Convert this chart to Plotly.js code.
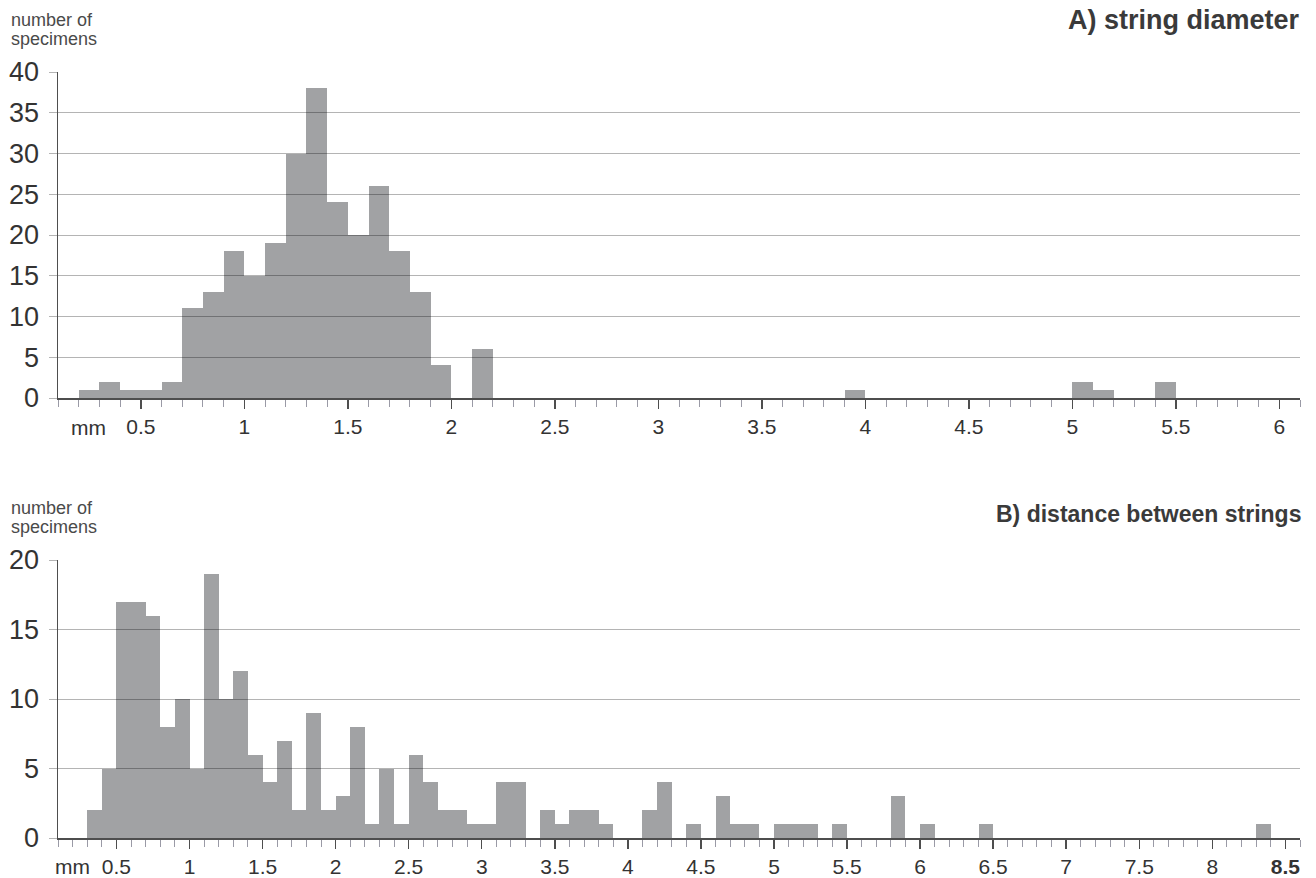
<!DOCTYPE html>
<html>
<head>
<meta charset="utf-8">
<script src="https://cdn.plot.ly/plotly-3.0.1.min.js"></script>
<style>
  html, body { margin: 0; padding: 0; background: #ffffff; }
  #chart { width: 1316px; height: 878px; }
</style>
</head>
<body>
<div id="chart"></div>
<script>
// ---- Data (bin lower edges in mm, bin width 0.1 mm) ----
const diameterEdges  = [0.2, 0.3, 0.4, 0.5, 0.6, 0.7, 0.8, 0.9, 1.0, 1.1, 1.2, 1.3, 1.4, 1.5, 1.6, 1.7, 1.8, 1.9, 2.1, 3.9, 5.0, 5.1, 5.4];
const diameterCounts = [1,   2,   1,   1,   2,   11,  13,  18,  15,  19,  30,  38,  24,  20,  26,  18,  13,  4,   6,   1,   2,   1,   2];

const distanceEdges  = [0.3, 0.4, 0.5, 0.6, 0.7, 0.8, 0.9, 1.0, 1.1, 1.2, 1.3, 1.4, 1.5, 1.6, 1.7, 1.8, 1.9, 2.0, 2.1, 2.2, 2.3, 2.4, 2.5, 2.6, 2.7, 2.8, 2.9, 3.0, 3.1, 3.2, 3.4, 3.5, 3.6, 3.7, 3.8, 4.1, 4.2, 4.4, 4.6, 4.7, 4.8, 5.0, 5.1, 5.2, 5.4, 5.8, 6.0, 6.4, 8.3];
const distanceCounts = [2,   5,   17,  17,  16,  8,   10,  5,   19,  10,  12,  6,   4,   7,   2,   9,   2,   3,   8,   1,   5,   1,   6,   4,   2,   2,   1,   1,   4,   4,   2,   1,   2,   2,   1,   2,   4,   1,   3,   1,   1,   1,   1,   1,   1,   3,   1,   1,   1];

const binWidth = 0.1;

// ---- Tick labels ----
const topTickVals = [0.5, 1, 1.5, 2, 2.5, 3, 3.5, 4, 4.5, 5, 5.5, 6];
const topTickText = ['0.5', '1', '1.5', '2', '2.5', '3', '3.5', '4', '4.5', '5', '5.5', '6'];
const botTickVals = [0.5, 1, 1.5, 2, 2.5, 3, 3.5, 4, 4.5, 5, 5.5, 6, 6.5, 7, 7.5, 8, 8.5];
const botTickText = ['0.5', '1', '1.5', '2', '2.5', '3', '3.5', '4', '4.5', '5', '5.5', '6', '6.5', '7', '7.5', '8', '<b>8.5</b>'];

const titleA = 'A) string diameter';
const titleB = 'B) distance between strings';
const yLabel1 = 'number of';
const yLabel2 = 'specimens';
const unitLabel = 'mm';

// ---- Styles ----
const FONT = '"Liberation Sans", Arial, Helvetica, sans-serif';
const barColor = 'rgba(0,3,8,0.37)';
const gridColor = '#b4b4b4';
const axisColor = '#4e4e4e';
const textColor = '#333333';
const H = 878, W = 1316, L = 58, R = 16;
const PW = W - L - R;
const py = px => 1 - px / H;
const pxX = px => (px - L) / PW;

const traces = [
  {
    type: 'bar', x: diameterEdges, y: diameterCounts,
    width: binWidth, offset: 0,
    marker: { color: barColor, line: { width: 0 } },
    xaxis: 'x', yaxis: 'y', hoverinfo: 'skip'
  },
  {
    type: 'bar', x: distanceEdges, y: distanceCounts,
    width: binWidth, offset: 0,
    marker: { color: barColor, line: { width: 0 } },
    xaxis: 'x2', yaxis: 'y2', hoverinfo: 'skip'
  }
];

function xAxis(range, vals, text, anchor) {
  return {
    domain: [0, 1], range: range, anchor: anchor,
    tickmode: 'array', tickvals: vals, ticktext: text,
    ticks: 'outside', ticklen: 9, tickwidth: 1.5, tickcolor: axisColor,
    ticklabelstandoff: 0,
    showline: true, linecolor: axisColor, linewidth: 1.5,
    showgrid: false, zeroline: false,
    tickfont: { family: FONT, size: 21, color: textColor },
    minor: { tick0: 0, dtick: 0.1, ticks: 'outside', ticklen: 7, tickwidth: 1, tickcolor: '#9a9aa6', showgrid: false },
    fixedrange: true
  };
}
function yAxis(domain, range, anchor) {
  return {
    domain: domain, range: range, anchor: anchor,
    tick0: 0, dtick: 5,
    ticks: 'outside', ticklen: 8, tickwidth: 1, tickcolor: gridColor,
    ticklabelstandoff: 4,
    showgrid: true, gridcolor: gridColor, gridwidth: 1,
    showline: true, linecolor: axisColor, linewidth: 1.5,
    zeroline: false,
    tickfont: { family: FONT, size: 27, color: textColor },
    fixedrange: true
  };
}

const layout = {
  width: W, height: H,
  margin: { l: L, r: R, t: 0, b: 0, pad: 0 },
  paper_bgcolor: '#ffffff', plot_bgcolor: '#ffffff',
  showlegend: false,
  bargap: 0,
  font: { family: FONT, color: textColor },
  xaxis: xAxis([0.1, 6.1], topTickVals, topTickText, 'y'),
  yaxis: yAxis([py(398), py(72)], [0, 40], 'x'),
  xaxis2: xAxis([0.1, 8.6], botTickVals, botTickText, 'y2'),
  yaxis2: yAxis([py(838), py(560)], [0, 20], 'x2'),
  annotations: [
    { text: yLabel1, xref: 'paper', yref: 'paper', x: pxX(9), y: py(19.5), xanchor: 'left', yanchor: 'middle', showarrow: false, font: { family: FONT, size: 18, color: '#4a4a4a' } },
    { text: yLabel2, xref: 'paper', yref: 'paper', x: pxX(9), y: py(38.5), xanchor: 'left', yanchor: 'middle', showarrow: false, font: { family: FONT, size: 18, color: '#4a4a4a' } },
    { text: '<b>' + titleA + '</b>', xref: 'paper', yref: 'paper', x: pxX(1302), y: py(19.6), xanchor: 'right', yanchor: 'middle', showarrow: false, font: { family: FONT, size: 27, color: '#3a3a3a' } },
    { text: unitLabel, xref: 'x', yref: 'paper', x: 0.245, y: py(427), xanchor: 'center', yanchor: 'middle', showarrow: false, font: { family: FONT, size: 21, color: textColor } },

    { text: yLabel1, xref: 'paper', yref: 'paper', x: pxX(9), y: py(507.5), xanchor: 'left', yanchor: 'middle', showarrow: false, font: { family: FONT, size: 18, color: '#4a4a4a' } },
    { text: yLabel2, xref: 'paper', yref: 'paper', x: pxX(9), y: py(526.5), xanchor: 'left', yanchor: 'middle', showarrow: false, font: { family: FONT, size: 18, color: '#4a4a4a' } },
    { text: '<b>' + titleB + '</b>', xref: 'paper', yref: 'paper', x: pxX(1303), y: py(513.6), xanchor: 'right', yanchor: 'middle', showarrow: false, font: { family: FONT, size: 23, color: '#3a3a3a' } },
    { text: unitLabel, xref: 'x2', yref: 'paper', x: 0.2, y: py(866), xanchor: 'center', yanchor: 'middle', showarrow: false, font: { family: FONT, size: 21, color: textColor } }
  ]
};

Plotly.newPlot('chart', traces, layout, { displayModeBar: false, staticPlot: true });
</script>
</body>
</html>
